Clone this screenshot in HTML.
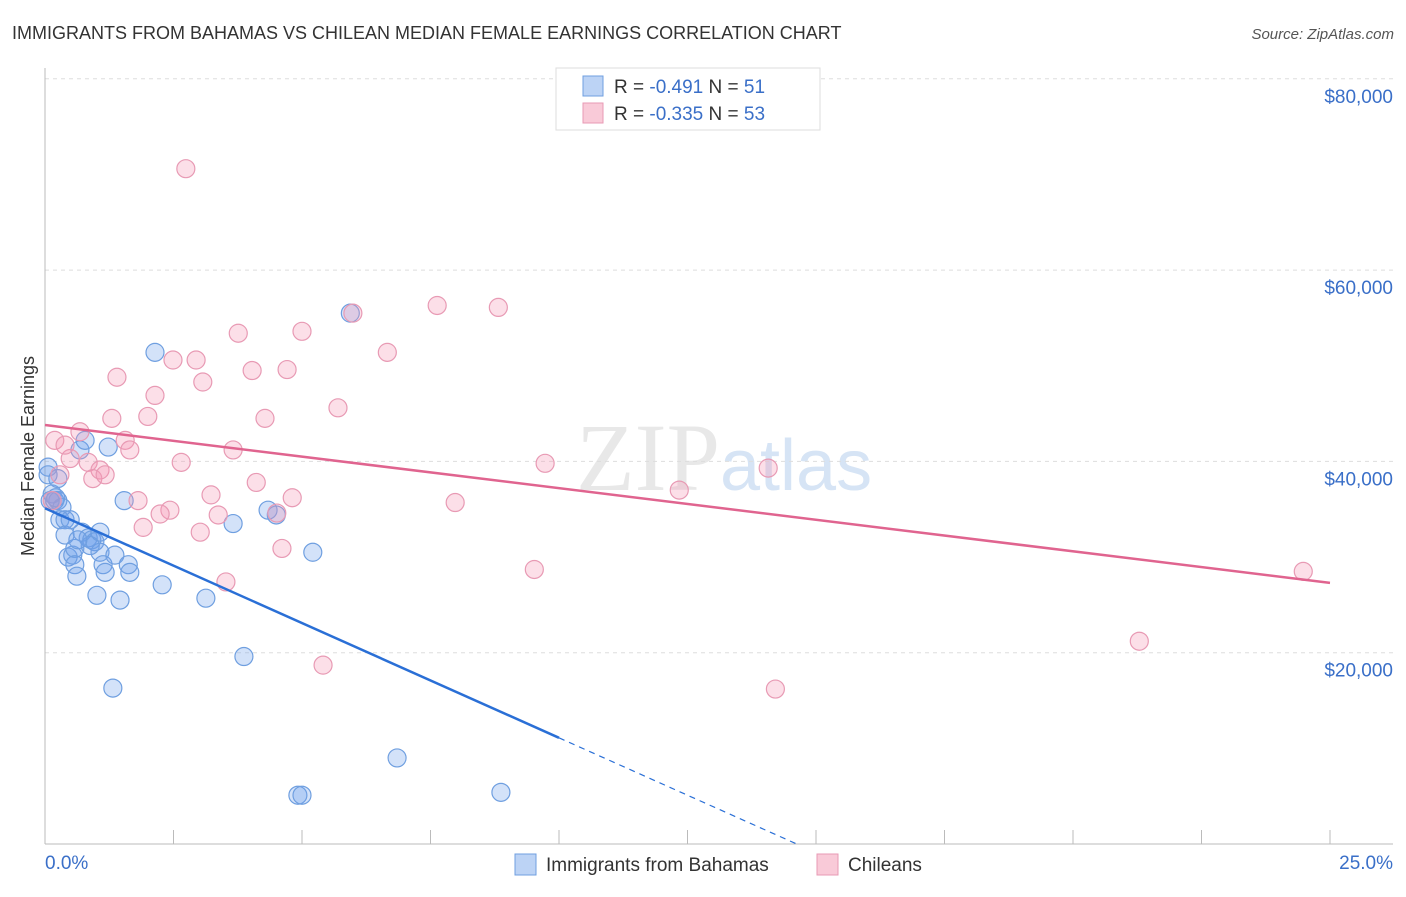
<!DOCTYPE html>
<html><head><meta charset="utf-8"><style>
body{margin:0;background:#fff;font-family:"Liberation Sans",sans-serif}
</style></head><body>
<svg id="chart" width="1406" height="892" xmlns="http://www.w3.org/2000/svg" font-family="Liberation Sans, sans-serif">
<text x="12" y="39" font-size="18" fill="#333">IMMIGRANTS FROM BAHAMAS VS CHILEAN MEDIAN FEMALE EARNINGS CORRELATION CHART</text>
<text x="1394" y="39" font-size="15" fill="#555" text-anchor="end" font-style="italic">Source: ZipAtlas.com</text>
<text x="720" y="490" font-size="96" fill="#e8e8e8" text-anchor="end" font-family="Liberation Serif, serif">ZIP</text>
<text x="720" y="490" font-size="72" fill="#d6e4f5">atlas</text>
<g id="grid"></g>
<g id="axes"></g>
<g id="points"></g>
<g id="lines"></g>
<text transform="translate(34,456) rotate(-90)" font-size="18" fill="#333" text-anchor="middle">Median Female Earnings</text>
<text x="45" y="869" font-size="19" fill="#3a6fc8">0.0%</text>
<text x="1393" y="869" font-size="19" fill="#3a6fc8" text-anchor="end">25.0%</text>
<g>
<rect x="556" y="68" width="264" height="62" fill="#fff" stroke="#ddd"/>
<rect x="583" y="76" width="20" height="20" fill="#bcd3f5" stroke="#6f9fe0"/>
<rect x="583" y="103" width="20" height="20" fill="#f9cad8" stroke="#e89ab4"/>
<text x="614" y="93" font-size="19" fill="#333">R = <tspan fill="#3a6fc8">-0.491</tspan>   N = <tspan fill="#3a6fc8">51</tspan></text>
<text x="614" y="120" font-size="19" fill="#333">R = <tspan fill="#3a6fc8">-0.335</tspan>   N = <tspan fill="#3a6fc8">53</tspan></text>
</g>
<g>
<rect x="515" y="854" width="21" height="21" fill="#bcd3f5" stroke="#6f9fe0"/>
<text x="546" y="871" font-size="19" fill="#333">Immigrants from Bahamas</text>
<rect x="817" y="854" width="21" height="21" fill="#f9cad8" stroke="#e89ab4"/>
<text x="848" y="871" font-size="19" fill="#333">Chileans</text>
</g>
</svg>
<script>
const yTicks=[20000,40000,60000,80000];
const yTickLabels=["$20,000","$40,000","$60,000","$80,000"];
const bahamasX=[0.06,0.14,0.19,0.25,0.33,0.10,0.29,0.39,0.39,0.45,0.54,0.58,0.58,0.62,0.68,0.78,0.72,0.84,0.91,0.97,1.07,1.07,1.13,1.17,1.23,1.36,1.46,1.54,1.62,1.65,1.01,1.32,2.14,2.28,3.13,3.66,3.87,4.34,4.50,4.92,5.00,5.21,5.94,6.85,8.87,0.06,0.21,0.49,0.88,0.25,0.64];
const bahamasY=[39.4,36.6,35.9,35.9,35.2,35.9,33.9,33.9,32.3,30.0,30.2,30.9,29.2,28.0,41.2,42.2,32.6,32.0,31.8,31.6,30.5,32.6,29.2,28.4,41.5,30.2,25.5,35.9,29.2,28.4,26.0,16.3,51.4,27.1,25.7,33.5,19.6,34.9,34.4,5.1,5.1,30.5,55.5,9.0,5.4,38.6,36.2,33.9,31.2,38.2,31.8];
const chileX=[2.74,1.40,2.14,2.00,1.30,1.56,1.65,0.68,0.49,0.84,1.07,0.93,1.17,0.29,0.19,0.39,0.14,2.65,2.49,2.94,3.07,3.76,4.03,4.71,5.00,5.99,6.66,7.63,8.82,5.70,4.28,3.66,4.11,3.23,3.37,3.02,2.43,2.24,1.81,1.91,3.52,4.61,4.81,4.51,5.41,7.98,9.52,9.73,12.34,14.07,14.21,21.29,24.48];
const chileY=[70.6,48.8,46.9,44.7,44.5,42.2,41.2,43.1,40.3,39.9,39.1,38.2,38.6,38.6,42.2,41.7,35.9,39.9,50.6,50.6,48.3,53.4,49.5,49.6,53.6,55.5,51.4,56.3,56.1,45.6,44.5,41.2,37.8,36.5,34.4,32.6,34.9,34.5,35.9,33.1,27.4,30.9,36.2,34.6,18.7,35.7,28.7,39.8,37.0,39.3,16.2,21.2,28.5];
const bahamasTrend=[35.1,-2.4]; // intercept (k$), slope per %
const chileTrend=[43.8,-0.66];
const NS="http://www.w3.org/2000/svg";
const X0=45,X1=1330,Y0=844;
function sx(p){return X0+p/25*(X1-X0);}
function sy(v){return Y0-v/20000*191.3;}
function mk(t,a,parent){const e=document.createElementNS(NS,t);for(const k in a)e.setAttribute(k,a[k]);document.getElementById(parent).appendChild(e);return e;}
yTicks.forEach((t,i)=>{
  const l=mk('line',{x1:45,x2:1393,y1:sy(t),y2:sy(t),stroke:'#ddd','stroke-dasharray':'4,4'},'grid');
  
  
  const tx=mk('text',{x:1393,y:sy(t)+24,'font-size':19,fill:'#3a6fc8','text-anchor':'end'},'grid');
  tx.textContent=yTickLabels[i];
  
  
});
const ya=mk('line',{x1:45,x2:45,y1:68,y2:844,stroke:'#bbb'},'axes');


const xa=mk('line',{x1:45,x2:1393,y1:844,y2:844,stroke:'#bbb'},'axes');


for(let i=1;i<=10;i++){
  const tk=mk('line',{x1:sx(i*2.5),x2:sx(i*2.5),y1:830,y2:844,stroke:'#bbb'},'axes');
  
  
}
function pts(xs,ys,fill,stroke,name){
  xs.forEach((x,i)=>{
    const c=mk('circle',{cx:sx(x),cy:sy(ys[i]*1000),r:9,fill:fill,stroke:stroke,'stroke-width':1.2},'points');
    
    
  });
}
pts(bahamasX,bahamasY,'rgba(110,160,235,0.3)','#6f9fe0','bahamas-point');
pts(chileX,chileY,'rgba(245,150,180,0.3)','#e89ab4','chilean-point');
const ct=mk('line',{x1:sx(0),y1:sy(chileTrend[0]*1000),x2:sx(25),y2:sy((chileTrend[0]+chileTrend[1]*25)*1000),stroke:'#e0648f','stroke-width':2.5},'lines');


const bEnd=10,bZero=-bahamasTrend[0]/bahamasTrend[1];
const bt=mk('line',{x1:sx(0),y1:sy(bahamasTrend[0]*1000),x2:sx(bEnd),y2:sy((bahamasTrend[0]+bahamasTrend[1]*bEnd)*1000),stroke:'#2a6fd6','stroke-width':2.5},'lines');


const bd=mk('line',{x1:sx(bEnd),y1:sy((bahamasTrend[0]+bahamasTrend[1]*bEnd)*1000),x2:sx(bZero),y2:sy(0),stroke:'#2a6fd6','stroke-width':1.2,'stroke-dasharray':'6,5'},'lines');


</script>
</body></html>
